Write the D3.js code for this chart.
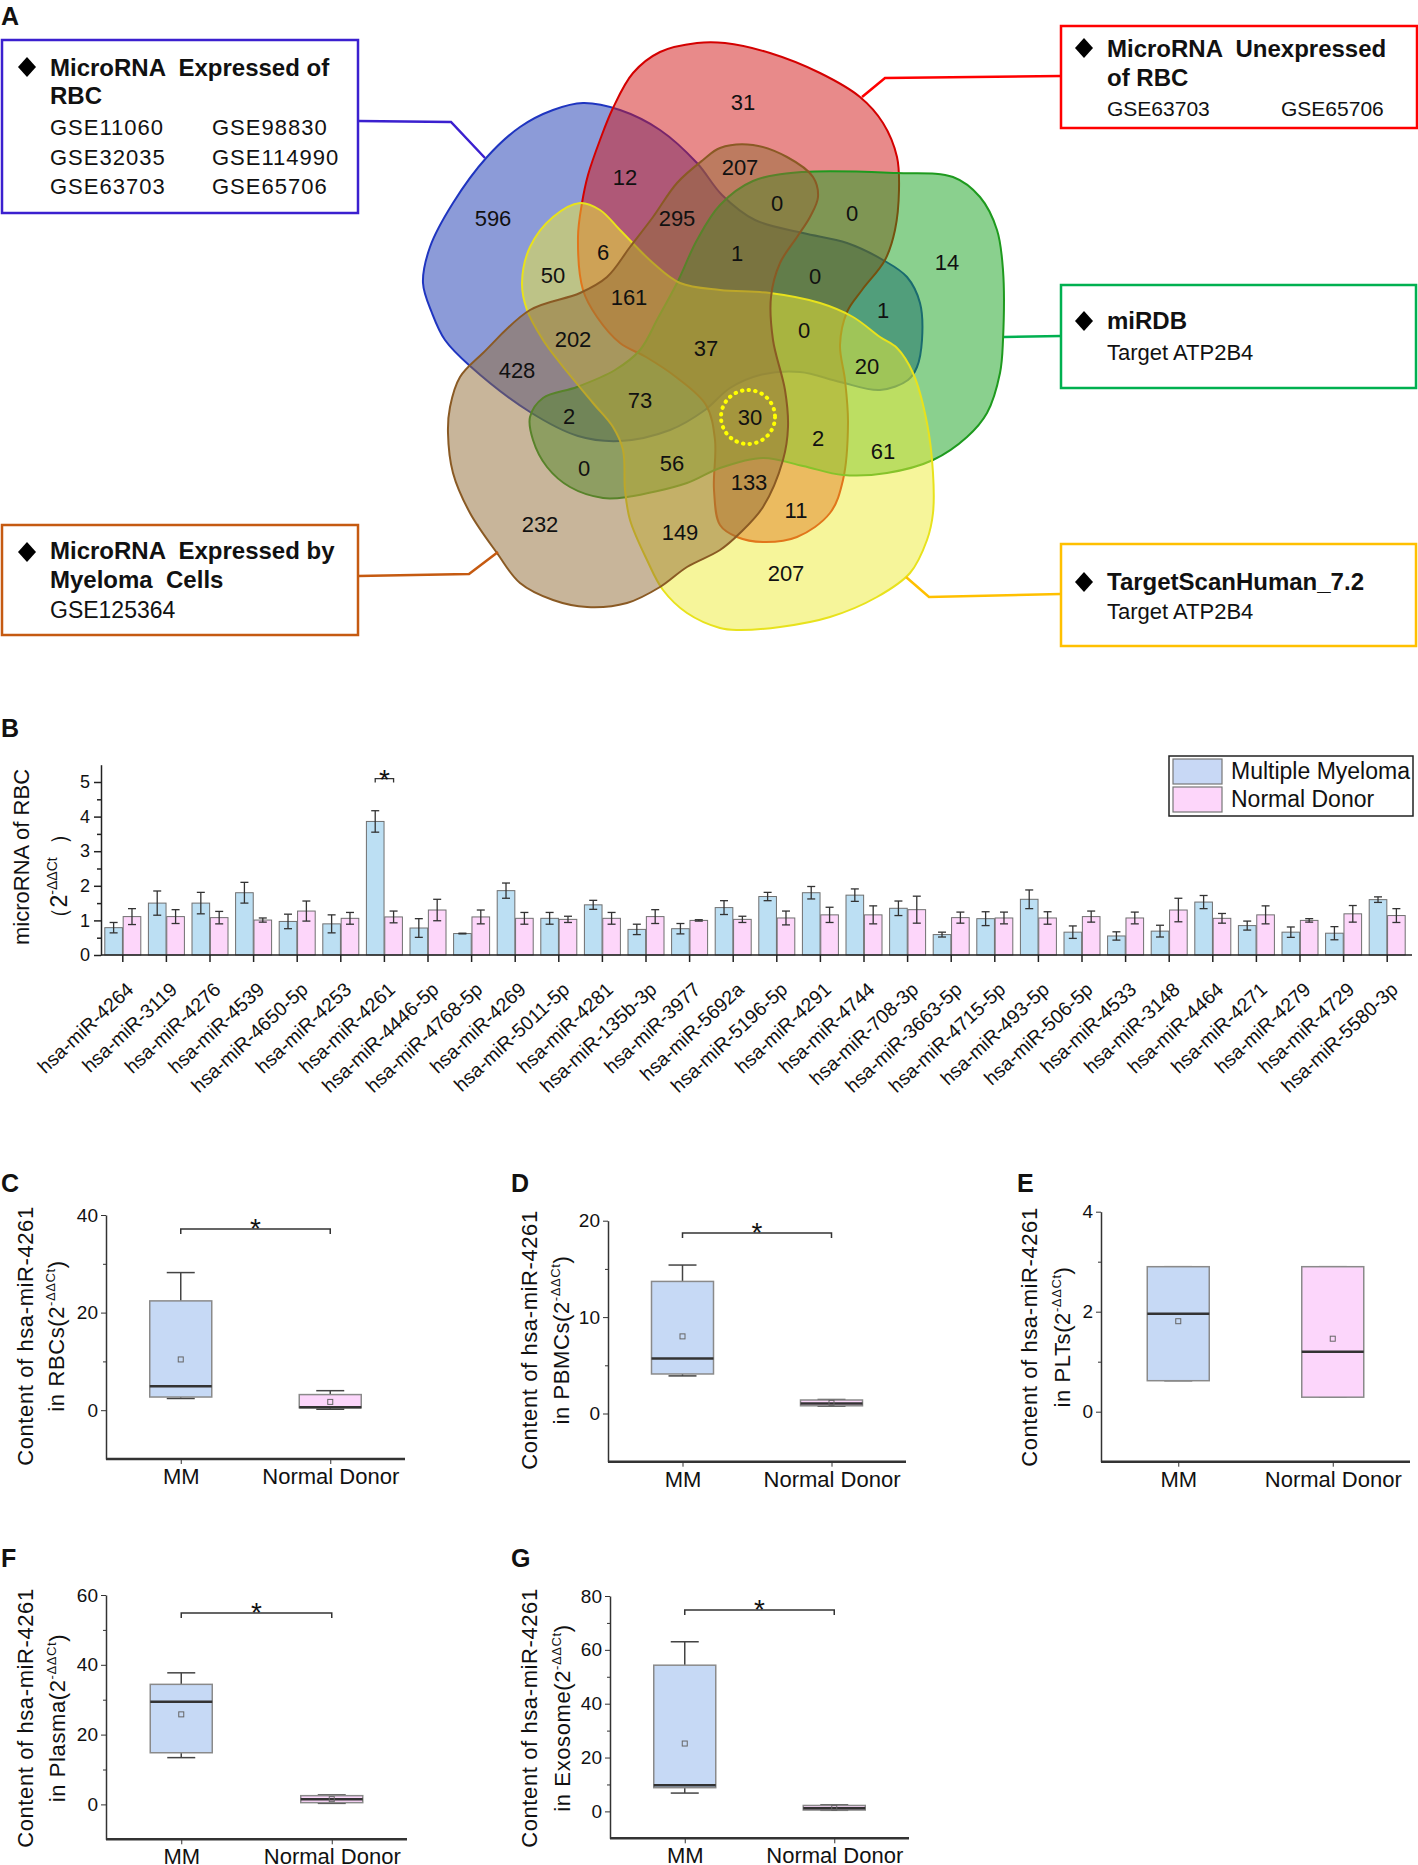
<!DOCTYPE html>
<html>
<head>
<meta charset="utf-8">
<script src="https://cdn.jsdelivr.net/npm/d3@7"></script>
<style>
  body { margin: 0; background: #fff; }
  text { font-family: "Liberation Sans", Arial, Helvetica, sans-serif; fill: #111; }
</style>
</head>
<body>
<svg id="fig"></svg>
<script>
// ---------- data ----------
// A: venn region counts
const vennCounts = [596, 12, 295, 6, 50, 161, 202, 31, 207, 0, 0, 14, 1, 0, 1, 0,
                    37, 428, 73, 2, 0, 56, 232, 149, 20, 30, 2, 61, 133, 11, 207];
const highlightCount = 30;

const setTitles = [['MicroRNA  Expressed of', 'RBC'], ['MicroRNA  Unexpressed', 'of RBC'],
                   ['miRDB'], ['TargetScanHuman_7.2'], ['MicroRNA  Expressed by', 'Myeloma  Cells']];
const setSources = [[['GSE11060', 'GSE98830'], ['GSE32035', 'GSE114990'], ['GSE63703', 'GSE65706']],
                    [['GSE63703', 'GSE65706']], [['Target ATP2B4']], [['Target ATP2B4']], [['GSE125364']]];

// B: microRNA of RBC, mean and error
const mirnas = ['hsa-miR-4264', 'hsa-miR-3119', 'hsa-miR-4276', 'hsa-miR-4539', 'hsa-miR-4650-5p',
  'hsa-miR-4253', 'hsa-miR-4261', 'hsa-miR-4446-5p', 'hsa-miR-4768-5p', 'hsa-miR-4269',
  'hsa-miR-5011-5p', 'hsa-miR-4281', 'hsa-miR-135b-3p', 'hsa-miR-3977', 'hsa-miR-5692a',
  'hsa-miR-5196-5p', 'hsa-miR-4291', 'hsa-miR-4744', 'hsa-miR-708-3p', 'hsa-miR-3663-5p',
  'hsa-miR-4715-5p', 'hsa-miR-493-5p', 'hsa-miR-506-5p', 'hsa-miR-4533', 'hsa-miR-3148',
  'hsa-miR-4464', 'hsa-miR-4271', 'hsa-miR-4279', 'hsa-miR-4729', 'hsa-miR-5580-3p'];
const mmMean = [0.79, 1.50, 1.50, 1.80, 0.97, 0.90, 3.86, 0.78, 0.62, 1.86, 1.06, 1.45, 0.74, 0.76, 1.37,
                1.69, 1.80, 1.73, 1.35, 0.59, 1.05, 1.61, 0.66, 0.55, 0.69, 1.53, 0.85, 0.66, 0.63, 1.60];
const mmErr  = [0.15, 0.35, 0.31, 0.30, 0.21, 0.26, 0.31, 0.27, 0.01, 0.22, 0.17, 0.13, 0.15, 0.15, 0.20,
                0.12, 0.18, 0.18, 0.21, 0.07, 0.20, 0.27, 0.18, 0.12, 0.17, 0.19, 0.13, 0.15, 0.19, 0.08];
const ndMean = [1.11, 1.11, 1.08, 1.01, 1.27, 1.06, 1.10, 1.30, 1.10, 1.06, 1.03, 1.06, 1.11, 1.00, 1.03,
                1.07, 1.16, 1.16, 1.31, 1.08, 1.07, 1.07, 1.11, 1.07, 1.30, 1.06, 1.16, 1.00, 1.19, 1.14];
const ndErr  = [0.23, 0.20, 0.18, 0.06, 0.29, 0.17, 0.17, 0.31, 0.20, 0.17, 0.09, 0.17, 0.20, 0.02, 0.09,
                0.20, 0.22, 0.26, 0.39, 0.16, 0.17, 0.18, 0.16, 0.17, 0.34, 0.14, 0.26, 0.05, 0.24, 0.20];
const seriesNames = ['Multiple Myeloma', 'Normal Donor'];
const starredMirna = 'hsa-miR-4261';

// C-G: box plot stats for hsa-miR-4261
const boxGroups = ['MM', 'Normal Donor'];
const rbcStats = [{min: 2.4, q1: 2.7, med: 4.9, q3: 22.4, max: 28.2, mean: 10.4},
                  {min: 0.2, q1: 0.5, med: 0.6, q3: 3.2, max: 4.0, mean: 1.7}];
const pbmcStats = [{min: 3.9, q1: 4.1, med: 5.7, q3: 13.7, max: 15.4, mean: 8.0},
                   {min: 0.75, q1: 0.8, med: 1.05, q3: 1.4, max: 1.45, mean: 1.1}];
const pltStats = [{min: 0.62, q1: 0.62, med: 1.96, q3: 2.9, max: 2.9, mean: 1.81},
                  {min: 0.29, q1: 0.29, med: 1.2, q3: 2.9, max: 2.9, mean: 1.46}];
const plasmaStats = [{min: 13.4, q1: 14.8, med: 29.4, q3: 34.4, max: 37.7, mean: 25.8},
                     {min: 0.3, q1: 0.5, med: 1.5, q3: 2.5, max: 2.7, mean: 1.5}];
const exosomeStats = [{min: 6.8, q1: 8.8, med: 9.7, q3: 54.3, max: 63.0, mean: 25.2},
                      {min: 0.4, q1: 0.5, med: 1.2, q3: 2.2, max: 2.4, mean: 1.3}];

// ---------- page ----------
const W = 1418, H = 1865;
const svg = d3.select('#fig').attr('width', W).attr('height', H);

// panel letters
const letters = [['A', 1, 25], ['B', 1, 737], ['C', 1, 1192], ['D', 511, 1192], ['E', 1017, 1192],
                 ['F', 1, 1567], ['G', 511, 1567]];
svg.selectAll('text.letter').data(letters).enter().append('text')
  .attr('class', 'letter')
  .attr('x', d => d[1]).attr('y', d => d[2])
  .attr('font-size', 25).attr('font-weight', 'bold')
  .text(d => d[0]);

// ================= A: venn =================
// outline geometry of the five shapes
const vennShapes = [
  [[583,103],[620,110],[660,130],[697,163],[722,195],[755,220],[803,233],[847,243],[883,260],[907,277],[920,303],[922,340],[917,367],[908,380],[880,390],[840,382],[800,372],[760,375],[730,388],[705,410],[670,430],[620,441],[578,436],[530,412],[470,366],[445,340],[432,313],[423,283],[430,247],[453,203],[487,157],[520,127],[553,110]],
  [[633,73],[660,52],[697,43],[725,43],[770,53],[820,73],[860,97],[883,123],[897,157],[899,190],[895,230],[885,260],[862,290],[847,312],[840,345],[845,380],[848,423],[843,480],[830,513],[797,537],[763,542],[737,537],[720,525],[714,490],[715,440],[706,405],[676,377],[646,357],[620,343],[597,317],[583,290],[578,237],[582,203],[588,175],[600,140],[613,108]],
  [[720,205],[753,181],[803,172],[897,173],[953,177],[980,197],[997,230],[1003,270],[1003,340],[1000,373],[987,413],[967,437],[933,460],[887,473],[843,475],[803,466],[763,458],[720,468],[687,483],[627,497],[603,498],[570,487],[547,467],[533,440],[530,417],[543,398],[577,387],[615,370],[640,350],[658,318],[677,283],[697,240]],
  [[580,203],[600,210],[620,230],[653,263],[680,283],[720,290],[770,293],[820,303],[853,317],[880,337],[897,348],[913,373],[927,423],[933,473],[933,513],[927,540],[910,573],[877,597],[830,617],[780,627],[737,630],[720,628],[687,613],[663,590],[647,560],[630,520],[625,490],[623,450],[613,427],[593,403],[560,363],[543,340],[527,310],[522,283],[530,247],[553,217]],
  [[720,148],[753,145],[787,157],[813,177],[818,197],[810,217],[797,237],[780,263],[771,297],[773,340],[785,390],[788,427],[783,460],[763,507],[740,533],[720,550],[687,567],[660,587],[627,603],[587,607],[553,600],[520,583],[497,553],[470,513],[453,473],[448,433],[450,407],[460,377],[483,353],[530,310],[580,293],[607,277],[630,247],[653,217],[677,183],[703,160]]
];
const shapeFill = ['#1937b1', '#d11515', '#15a11d', '#edeb35', '#916b35'];
const shapeStroke = ['#1f35c0', '#d40000', '#1e9a1e', '#e8e21c', '#8a5a24'];
const boxStroke = ['#3b20cf', '#ff0000', '#00b050', '#ffc000', '#c55a11'];

const outline = d3.line().curve(d3.curveCatmullRomClosed.alpha(0.5));
const venn = svg.append('g');
venn.selectAll('path.set').data(vennShapes).enter().append('path')
  .attr('class', 'set')
  .attr('d', outline)
  .attr('fill', (d, i) => shapeFill[i])
  .attr('fill-opacity', 0.5)
  .attr('stroke', (d, i) => shapeStroke[i])
  .attr('stroke-width', 2);

// count label positions (layout only)
const vennLabelXY = [[493,218],[625,177],[677,218],[603,252],[553,275],[629,297],[573,339],[743,102],
  [740,167],[777,203],[852,213],[947,262],[737,253],[815,276],[883,310],[804,330],[706,348],[517,370],
  [640,400],[569,416],[584,468],[672,463],[540,524],[680,532],[867,366],[750,417],[818,438],[883,451],
  [749,482],[796,510],[786,573]];
venn.selectAll('text.count').data(vennCounts).enter().append('text')
  .attr('class', 'count')
  .attr('x', (d, i) => vennLabelXY[i][0])
  .attr('y', (d, i) => vennLabelXY[i][1] + 8)
  .attr('text-anchor', 'middle')
  .attr('font-size', 22)
  .text(d => d);

// dotted ring round the highlighted region
const hi = vennCounts.indexOf(highlightCount, 20);
venn.append('circle')
  .attr('cx', vennLabelXY[hi][0] - 2).attr('cy', vennLabelXY[hi][1])
  .attr('r', 27)
  .attr('fill', 'none').attr('stroke', '#ffff00')
  .attr('stroke-width', 4).attr('stroke-dasharray', '0.5 6.2').attr('stroke-linecap', 'round');

// callout boxes
const callouts = [
  {rect: [2, 40, 356, 173], dia: [27, 67], tx: 50, tb: [76, 104], sb: [135, 165, 194], cols: [50, 212],
   lead: [[358,121],[451,122],[485,158]], gsize: 22},
  {rect: [1061, 26, 356, 102], dia: [1084, 48], tx: 1107, tb: [57, 86], sb: [116], cols: [1107, 1281],
   lead: [[1061,76],[885,78],[862,97]], gsize: 21},
  {rect: [1061, 285, 355, 103], dia: [1084, 321], tx: 1107, tb: [329], sb: [360], cols: [1107],
   lead: [[1061,336],[1004,337]], gsize: 22},
  {rect: [1061, 544, 355, 102], dia: [1084, 582], tx: 1107, tb: [590], sb: [619], cols: [1107],
   lead: [[1061,594],[929,597],[906,577]], gsize: 22},
  {rect: [2, 525, 356, 110], dia: [27, 552], tx: 50, tb: [559, 588], sb: [618], cols: [50],
   lead: [[358,576],[469,574],[498,552]], gsize: 23}
];
callouts.forEach((c, i) => {
  const g = svg.append('g');
  g.append('path').attr('d', d3.line()(c.lead))
    .attr('fill', 'none').attr('stroke', boxStroke[i]).attr('stroke-width', 2.5);
  g.append('rect').attr('x', c.rect[0]).attr('y', c.rect[1])
    .attr('width', c.rect[2]).attr('height', c.rect[3])
    .attr('fill', '#fff').attr('stroke', boxStroke[i]).attr('stroke-width', 2.5);
  g.append('path')
    .attr('d', `M${c.dia[0]},${c.dia[1] - 10}L${c.dia[0] + 9},${c.dia[1]}L${c.dia[0]},${c.dia[1] + 10}L${c.dia[0] - 9},${c.dia[1]}Z`)
    .attr('fill', '#000');
  setTitles[i].forEach((t, j) => {
    g.append('text').attr('x', c.tx).attr('y', c.tb[j])
      .attr('font-size', 24).attr('font-weight', 'bold').attr('xml:space', 'preserve')
      .text(t);
  });
  setSources[i].forEach((row, j) => {
    row.forEach((t, k) => {
      g.append('text').attr('x', c.cols[k]).attr('y', c.sb[j])
        .attr('font-size', c.gsize).attr('letter-spacing', i === 0 ? 1 : 0)
        .text(t);
    });
  });
});

// ================= B: grouped bars =================
const yB = d3.scaleLinear().domain([0, 5.5]).range([955, 764.7]);
const xB = d3.scaleBand().domain(mirnas).range([101, 1409]);
const xSub = d3.scaleBand().domain(seriesNames).range([-18, 18]).paddingInner(0.04);
const barFill = ['#bcdff3', '#fdd6fa'];
const legendFill = ['#c8d8f5', '#fdd6fa'];

const gB = svg.append('g');
const barRows = mirnas.map((m, i) => [
  {m, s: seriesNames[0], v: mmMean[i], e: mmErr[i]},
  {m, s: seriesNames[1], v: ndMean[i], e: ndErr[i]}
]).flat();

gB.selectAll('rect.bar').data(barRows).enter().append('rect')
  .attr('class', 'bar')
  .attr('x', d => xB(d.m) + xB.bandwidth() / 2 + xSub(d.s))
  .attr('y', d => yB(d.v))
  .attr('width', xSub.bandwidth())
  .attr('height', d => yB(0) - yB(d.v))
  .attr('fill', d => barFill[seriesNames.indexOf(d.s)])
  .attr('stroke', '#6f6f6f').attr('stroke-width', 1);

const errG = gB.selectAll('g.err').data(barRows).enter().append('g')
  .attr('class', 'err')
  .attr('transform', d => `translate(${xB(d.m) + xB.bandwidth() / 2 + xSub(d.s) + xSub.bandwidth() / 2},0)`)
  .attr('stroke', '#333').attr('stroke-width', 1.3);
errG.append('line').attr('y1', d => yB(d.v + d.e)).attr('y2', d => yB(d.v - d.e));
errG.append('line').attr('x1', -4).attr('x2', 4).attr('y1', d => yB(d.v + d.e)).attr('y2', d => yB(d.v + d.e));
errG.append('line').attr('x1', -4).attr('x2', 4).attr('y1', d => yB(d.v - d.e)).attr('y2', d => yB(d.v - d.e));

// y axis
const yAxisB = gB.append('g').attr('transform', 'translate(101,0)')
  .call(d3.axisLeft(yB).tickValues([0, 1, 2, 3, 4, 5]).tickSize(7).tickSizeOuter(0).tickFormat(d3.format('d')));
yAxisB.selectAll('text').attr('font-size', 18).attr('dx', -1);
gB.append('g').attr('transform', 'translate(101,0)')
  .call(d3.axisLeft(yB).tickValues(d3.range(0.5, 5.5, 1)).tickSize(4).tickFormat(''))
  .select('.domain').remove();
// x axis
const xAxisB = gB.append('g').attr('transform', 'translate(0,955)')
  .call(d3.axisBottom(xB).tickSize(7).tickSizeOuter(0));
xAxisB.select('.domain').attr('d', 'M101,0H1412');
xAxisB.selectAll('text')
  .attr('font-size', 19.5)
  .attr('text-anchor', 'end')
  .attr('dy', 0).attr('y', 0)
  .attr('transform', 'translate(12,36) rotate(-43)');
svg.selectAll('.domain, .tick line').attr('stroke', '#222').attr('stroke-width', 1.5);

// significance marker
const sx0 = xB(starredMirna) + xB.bandwidth() / 2 + xSub(seriesNames[0]) + xSub.bandwidth() / 2;
const sx1 = xB(starredMirna) + xB.bandwidth() / 2 + xSub(seriesNames[1]) + xSub.bandwidth() / 2;
const sy = yB(5.1);
gB.append('path').attr('d', `M${sx0},${sy + 4}V${sy}H${sx1}V${sy + 4}`)
  .attr('fill', 'none').attr('stroke', '#333').attr('stroke-width', 1.3);
gB.append('text').attr('x', (sx0 + sx1) / 2).attr('y', sy + 10)
  .attr('text-anchor', 'middle').attr('font-size', 28).text('*');

// y title
gB.append('text').attr('transform', 'translate(29,857) rotate(-90)')
  .attr('text-anchor', 'middle').attr('font-size', 22).text('microRNA of RBC');
const tB = gB.append('text').attr('transform', 'translate(67,876) rotate(-90)')
  .attr('text-anchor', 'middle').attr('font-size', 23).attr('xml:space', 'preserve');
tB.append('tspan').text('（2');
tB.append('tspan').attr('font-size', 14).attr('dy', -10).text('-ΔΔCt');
tB.append('tspan').attr('dy', 10).text('  ）');

// legend
const lg = gB.append('g');
lg.append('rect').attr('x', 1169).attr('y', 756).attr('width', 244).attr('height', 60)
  .attr('fill', '#fff').attr('stroke', '#222').attr('stroke-width', 1.5);
seriesNames.forEach((s, i) => {
  lg.append('rect').attr('x', 1173).attr('y', 759 + i * 28).attr('width', 49).attr('height', 25)
    .attr('fill', legendFill[i]).attr('stroke', '#777').attr('stroke-width', 1.2);
  lg.append('text').attr('x', 1231).attr('y', 779 + i * 28).attr('font-size', 23).text(s);
});

// ================= C-G: box plots =================
const boxFill = ['#c6d9f5', '#fcd6fb'];
const boxPanels = [
  {stats: rbcStats, where: 'RBCs', x0: 106, x1: 405, dom: [-10, 40], yb: 1459, yt: 1215, ticks: [0, 20, 40], minor: [10, 30],
   tx: [26, 57], ty: 1336, star: 1229},
  {stats: pbmcStats, where: 'PBMCs', x0: 608, x1: 906, dom: [-5, 20], yb: 1461.7, yt: 1220.7, ticks: [0, 10, 20], minor: [5, 15],
   tx: [530, 562], ty: 1340, star: 1233},
  {stats: pltStats, where: 'PLTs', x0: 1101, x1: 1410, dom: [-1, 4], yb: 1461.7, yt: 1211.7, ticks: [0, 2, 4], minor: [1, 3],
   tx: [1030, 1063], ty: 1337, star: null},
  {stats: plasmaStats, where: 'Plasma', x0: 106, x1: 407, dom: [-10, 60], yb: 1839.3, yt: 1595, ticks: [0, 20, 40, 60], minor: [10, 30, 50],
   tx: [26, 58], ty: 1718, star: 1613},
  {stats: exosomeStats, where: 'Exosome', x0: 610, x1: 909, dom: [-10, 80], yb: 1838.3, yt: 1596, ticks: [0, 20, 40, 60, 80], minor: [10, 30, 50, 70],
   tx: [530, 563], ty: 1718, star: 1610}
];

boxPanels.forEach(p => {
  const g = svg.append('g');
  const x = d3.scalePoint().domain(boxGroups).range([p.x0, p.x1]).padding(0.5);
  const y = d3.scaleLinear().domain(p.dom).range([p.yb, p.yt]);

  const ya = g.append('g').attr('transform', `translate(${p.x0},0)`)
    .call(d3.axisLeft(y).tickValues(p.ticks).tickSize(5).tickSizeOuter(0).tickFormat(d3.format('d')));
  ya.selectAll('text').attr('font-size', 19);
  g.append('g').attr('transform', `translate(${p.x0},0)`)
    .call(d3.axisLeft(y).tickValues(p.minor).tickSize(3).tickFormat(''))
    .select('.domain').remove();
  const xa = g.append('g').attr('transform', `translate(0,${p.yb})`)
    .call(d3.axisBottom(x).tickSize(5).tickSizeOuter(0));
  xa.select('.domain').attr('d', `M${p.x0},0H${p.x1}`).attr('stroke-width', 2.5);
  xa.selectAll('text').attr('font-size', 22).attr('dy', 0).attr('y', 25);
  g.selectAll('.domain, .tick line').attr('stroke', '#333');
  ya.select('.domain').attr('stroke-width', 1.5);

  const b = g.selectAll('g.box').data(p.stats).enter().append('g')
    .attr('class', 'box')
    .attr('transform', (d, i) => `translate(${x(boxGroups[i])},0)`);
  b.append('line').attr('y1', d => y(d.q3)).attr('y2', d => y(d.max)).attr('stroke', '#444').attr('stroke-width', 1.5);
  b.append('line').attr('y1', d => y(d.q1)).attr('y2', d => y(d.min)).attr('stroke', '#444').attr('stroke-width', 1.5);
  b.append('line').attr('x1', -14).attr('x2', 14).attr('y1', d => y(d.max)).attr('y2', d => y(d.max)).attr('stroke', '#444').attr('stroke-width', 1.5);
  b.append('line').attr('x1', -14).attr('x2', 14).attr('y1', d => y(d.min)).attr('y2', d => y(d.min)).attr('stroke', '#444').attr('stroke-width', 1.5);
  b.append('rect').attr('x', -31).attr('width', 62)
    .attr('y', d => y(d.q3)).attr('height', d => y(d.q1) - y(d.q3))
    .attr('fill', (d, i) => boxFill[i]).attr('stroke', '#8a8a8a').attr('stroke-width', 1.5);
  b.append('line').attr('x1', -31).attr('x2', 31).attr('y1', d => y(d.med)).attr('y2', d => y(d.med))
    .attr('stroke', '#333').attr('stroke-width', 2.5);
  b.append('rect').attr('x', -2.5).attr('width', 5).attr('y', d => y(d.mean) - 2.5).attr('height', 5)
    .attr('fill', 'none').attr('stroke', '#666').attr('stroke-width', 1);

  if (p.star !== null) {
    const a = x(boxGroups[0]), c = x(boxGroups[1]);
    g.append('path').attr('d', `M${a},${p.star + 5}V${p.star}H${c}V${p.star + 5}`)
      .attr('fill', 'none').attr('stroke', '#333').attr('stroke-width', 1.5);
    g.append('text').attr('x', (a + c) / 2).attr('y', p.star + 9)
      .attr('text-anchor', 'middle').attr('font-size', 28).text('*');
  }

  g.append('text').attr('transform', `translate(${p.tx[0] + 7},${p.ty}) rotate(-90)`)
    .attr('text-anchor', 'middle').attr('font-size', 22).attr('letter-spacing', 0.6)
    .text('Content of hsa-miR-4261');
  const t2 = g.append('text').attr('transform', `translate(${p.tx[1] + 7},${p.ty}) rotate(-90)`)
    .attr('text-anchor', 'middle').attr('font-size', 22).attr('letter-spacing', 0.6);
  t2.append('tspan').text(`in ${p.where}(2`);
  t2.append('tspan').attr('font-size', 13).attr('dy', -9).text('-ΔΔCt');
  t2.append('tspan').attr('dy', 9).text(')');
});
</script>
</body>
</html>
